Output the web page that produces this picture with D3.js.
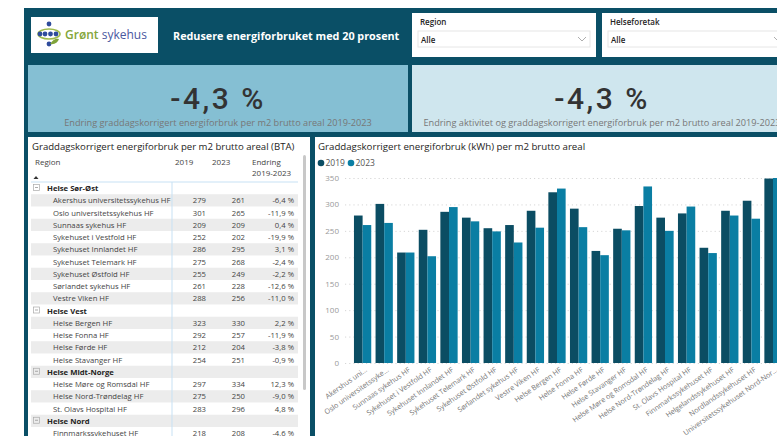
<!DOCTYPE html>
<html><head><meta charset="utf-8">
<script src="https://cdn.jsdelivr.net/npm/d3@7"></script>
<style>
html,body{margin:0;padding:0;background:#fff;overflow:hidden;}
svg{display:block;}
</style></head>
<body>
<script>
// ---------- DATA ----------
const regions = ["Helse Sør-Øst", "Helse Vest", "Helse Midt-Norge", "Helse Nord"];
const hospitals = [
  "Akershus universitetssykehus HF", "Oslo universitetssykehus HF", "Sunnaas sykehus HF",
  "Sykehuset i Vestfold HF", "Sykehuset Innlandet HF", "Sykehuset Telemark HF",
  "Sykehuset Østfold HF", "Sørlandet sykehus HF", "Vestre Viken HF",
  "Helse Bergen HF", "Helse Fonna HF", "Helse Førde HF", "Helse Stavanger HF",
  "Helse Møre og Romsdal HF", "Helse Nord-Trøndelag HF", "St. Olavs Hospital HF",
  "Finnmarkssykehuset HF", "Helgelandssykehuset HF", "Nordlandssykehuset HF",
  "Universitetssykehuset Nord-Norge HF"
];
const hospitalRegion = [0,0,0,0,0,0,0,0,0, 1,1,1,1, 2,2,2, 3,3,3,3];
const values2019 = [279, 301, 209, 252, 286, 275, 255, 261, 288, 323, 292, 212, 254, 297, 275, 283, 218, 288, 307, 349];
const values2023 = [261, 265, 209, 202, 295, 268, 249, 228, 256, 330, 257, 204, 251, 334, 250, 296, 208, 279, 273, 350];
const changeLabels = ["-6,4 %", "-11,9 %", "0,4 %", "-19,9 %", "3,1 %", "-2,4 %", "-2,2 %", "-12,6 %", "-11,0 %",
  "2,2 %", "-11,9 %", "-3,8 %", "-0,9 %", "12,3 %", "-9,0 %", "4,8 %", "-4,6 %", "-3,1 %", "-11,1 %", "0,3 %"];
const xTickLabels = [
  "Akershus uni...", "Oslo universitetssyke...", "Sunnaas sykehus HF", "Sykehuset i Vestfold HF",
  "Sykehuset Innlandet HF", "Sykehuset Telemark HF", "Sykehuset Østfold HF", "Sørlandet sykehus HF",
  "Vestre Viken HF", "Helse Bergen HF", "Helse Fonna HF", "Helse Førde HF", "Helse Stavanger HF",
  "Helse Møre og Romsdal HF", "Helse Nord-Trøndelag HF", "St. Olavs Hospital HF",
  "Finnmarkssykehuset HF", "Helgelandssykehuset HF", "Nordlandssykehuset HF", "Universitetssykehuset Nord-Nor..."
];
const seriesNames = ["2019", "2023"];
const yTicks = [0, 50, 100, 150, 200, 250, 300, 350];
const kpiValues = ["-4,3 %", "-4,3 %"];
const kpiLabels = [
  "Endring graddagskorrigert energiforbruk per m2 brutto areal 2019-2023",
  "Endring aktivitet og graddagskorrigert energiforbruk per m2 brutto areal 2019-2023"
];
const pageTitle = "Redusere energiforbruket med 20 prosent";
const tableTitle = "Graddagskorrigert energiforbruk per m2 brutto areal (BTA)";
const chartTitle = "Graddagskorrigert energiforbruk (kWh) per m2 brutto areal";
const slicers = [{label: "Region", value: "Alle"}, {label: "Helseforetak", value: "Alle"}];

// ---------- STYLE ----------
const W = 777, H = 436;
const FONT = "'Open Sans', 'Noto Sans', sans-serif";
const BG = "#0a4f66";
const C2019 = "#0b4d63";
const C2023 = "#0a7ea3";
const TXT = "#252423";

const svg = d3.select("body").append("svg").attr("width", W).attr("height", H)
  .style("font-family", FONT);

svg.append("rect").attr("width", W).attr("height", H).attr("fill", "#fff");
svg.append("rect").attr("x", 24).attr("y", 8).attr("width", W - 24).attr("height", H - 8).attr("fill", BG);

// ---------- LOGO ----------
const logo = svg.append("g");
logo.append("rect").attr("x", 31).attr("y", 17).attr("width", 127).attr("height", 36).attr("fill", "#fff");
logo.append("ellipse").attr("cx", 49).attr("cy", 34).attr("rx", 11).attr("ry", 5)
  .attr("fill", "none").attr("stroke", "#9dba4a").attr("stroke-width", 1.6);
const dots = [[49, 24], [40, 34], [45, 34], [50.5, 34], [56, 34], [49, 44]];
dots.forEach(d => logo.append("circle").attr("cx", d[0]).attr("cy", d[1]).attr("r", 2.4).attr("fill", "#2f4c9c"));
logo.append("path").attr("d", "M50,44 q4,-6 9,-5 q-2,6 -9,5z").attr("fill", "#7fa33a");
const lt = logo.append("text").attr("x", 65).attr("y", 39).attr("font-size", 12);
lt.append("tspan").attr("fill", "#84a63a").attr("font-weight", 600).text("Grønt");
lt.append("tspan").attr("fill", "#4a58a0").text(" sykehus");

svg.append("text").attr("x", 173).attr("y", 39.5).attr("fill", "#fff").attr("font-size", 10.8)
  .attr("font-weight", 700).text(pageTitle);

// ---------- SLICERS ----------
const slicerX = [412, 602], slicerW = [184, 190];
slicers.forEach((s, i) => {
  const g = svg.append("g").attr("transform", `translate(${slicerX[i]},13)`);
  g.append("rect").attr("width", slicerW[i]).attr("height", 44).attr("fill", "#fff");
  g.append("text").attr("x", 8).attr("y", 12).attr("font-size", 8).attr("fill", TXT).attr("font-weight", 600).text(s.label);
  g.append("rect").attr("x", 6).attr("y", 18).attr("width", slicerW[i] - 12).attr("height", 16)
    .attr("fill", "#fff").attr("stroke", "#e6e6e6");
  g.append("text").attr("x", 9).attr("y", 29.5).attr("font-size", 8).attr("fill", TXT).attr("font-weight", 600).text(s.value);
  g.append("path").attr("d", `M${slicerW[i] - 18},24 l4,4 l4,-4`).attr("fill", "none").attr("stroke", "#999").attr("stroke-width", 0.8);
});

// ---------- KPI CARDS ----------
const cardX = [28, 412], cardW = [380, 380], cardFill = ["#85bfd3", "#cfe6ee"];
kpiValues.forEach((v, i) => {
  const g = svg.append("g").attr("transform", `translate(${cardX[i]},65)`);
  g.append("rect").attr("width", cardW[i]).attr("height", 67).attr("fill", cardFill[i]);
  g.append("text").attr("x", 190).attr("y", 44).attr("text-anchor", "middle").attr("font-size", 30)
    .attr("font-family", "Roboto, sans-serif").attr("font-weight", 500).attr("letter-spacing", 2.5).attr("fill", "#333").text(v);
  g.append("text").attr("x", 190).attr("y", 61).attr("text-anchor", "middle").attr("font-size", 9.2)
    .attr("fill", "#777").text(kpiLabels[i]);
});

// ---------- TABLE ----------
const tbl = svg.append("g");
tbl.append("rect").attr("x", 28).attr("y", 137).attr("width", 282).attr("height", H - 137).attr("fill", "#fff");
tbl.append("text").attr("x", 32).attr("y", 149.5).attr("font-size", 9.6).attr("fill", TXT).text(tableTitle);
const hy = 164.5;
const HF = 8;
tbl.append("text").attr("x", 35).attr("y", hy).attr("font-size", HF).attr("fill", "#444").text("Region");
tbl.append("text").attr("x", 175).attr("y", hy).attr("font-size", HF).attr("fill", "#444").text(seriesNames[0]);
tbl.append("text").attr("x", 212).attr("y", hy).attr("font-size", HF).attr("fill", "#444").text(seriesNames[1]);
tbl.append("text").attr("x", 252).attr("y", hy).attr("font-size", HF).attr("fill", "#444").text("Endring");
tbl.append("text").attr("x", 252).attr("y", hy + 11).attr("font-size", HF).attr("fill", "#444").text("2019-2023");
tbl.append("path").attr("d", "M33.5,179 l2.5,-3 l2.5,3z").attr("fill", "#333");
tbl.append("line").attr("x1", 31).attr("x2", 298).attr("y1", 182).attr("y2", 182).attr("stroke", "#c7e1f4").attr("stroke-width", 1);

// build rows
const rows = [];
regions.forEach((r, ri) => {
  rows.push({type: "group", name: r});
  hospitals.forEach((h, i) => {
    if (hospitalRegion[i] === ri) rows.push({type: "item", name: h, i});
  });
});
const rowY = d3.scaleLinear().domain([0, 1]).range([188, 200.25]);
const rowsG = tbl.append("g").attr("font-size", 7.7);
rows.forEach((row, k) => {
  const cy = rowY(k);
  if (cy > H + 10) return;
  if (k % 2 === 1) rowsG.append("rect").attr("x", 31).attr("y", cy - 6).attr("width", 267).attr("height", 12.2).attr("fill", "#ececec");
  if (row.type === "group") {
    rowsG.append("rect").attr("x", 33.5).attr("y", cy - 3.5).attr("width", 6).attr("height", 6)
      .attr("fill", "none").attr("stroke", "#aaa").attr("stroke-width", 0.7);
    rowsG.append("line").attr("x1", 35).attr("x2", 38).attr("y1", cy - 0.5).attr("y2", cy - 0.5).attr("stroke", "#888").attr("stroke-width", 0.7);
    rowsG.append("text").attr("x", 47).attr("y", cy + 3).attr("font-weight", 700).attr("fill", TXT).text(row.name);
  } else {
    rowsG.append("text").attr("x", 53).attr("y", cy + 3).attr("fill", "#444").text(row.name);
    rowsG.append("text").attr("x", 206).attr("y", cy + 3).attr("text-anchor", "end").attr("fill", "#444").text(values2019[row.i]);
    rowsG.append("text").attr("x", 245).attr("y", cy + 3).attr("text-anchor", "end").attr("fill", "#444").text(values2023[row.i]);
    rowsG.append("text").attr("x", 294).attr("y", cy + 3).attr("text-anchor", "end").attr("fill", "#444").text(changeLabels[row.i]);
  }
});
tbl.append("line").attr("x1", 172).attr("x2", 172).attr("y1", 182).attr("y2", H).attr("stroke", "#c7e1f4").attr("stroke-width", 1);
tbl.append("rect").attr("x", 303).attr("y", 155).attr("width", 3).attr("height", 235).attr("rx", 1.5).attr("fill", "#c8c8c8");

// ---------- BAR CHART ----------
const ch = svg.append("g");
ch.append("rect").attr("x", 315).attr("y", 137).attr("width", W - 315).attr("height", H - 137).attr("fill", "#fff");
ch.append("text").attr("x", 318).attr("y", 149.5).attr("font-size", 9.7).attr("fill", TXT).text(chartTitle);
const color = d3.scaleOrdinal().domain(seriesNames).range([C2019, C2023]);
seriesNames.forEach((s, i) => {
  const lx = 321 + i * 30;
  ch.append("circle").attr("cx", lx).attr("cy", 163).attr("r", 3.3).attr("fill", color(s));
  ch.append("text").attr("x", lx + 4.5).attr("y", 166.2).attr("font-size", 8.5).attr("fill", "#555").text(s);
});

const y = d3.scaleLinear().domain([0, 350]).range([363, 178]);
const x = d3.scaleBand().domain(xTickLabels).range([351.8, 783.8]).paddingInner(0.2).paddingOuter(0.1);
const xs = d3.scaleBand().domain(seriesNames).range([0, x.bandwidth()]);

const yAxis = d3.axisLeft(y).tickValues(yTicks).tickSize(-(W - 345)).tickPadding(6);
const gy = ch.append("g").attr("transform", "translate(345,0)").call(yAxis);
gy.select(".domain").remove();
gy.selectAll(".tick line").attr("stroke", "#d6d6d6").attr("stroke-dasharray", "1.2,3");
gy.selectAll(".tick text").attr("font-size", 8).attr("fill", "#999").attr("font-family", FONT);

const groups = ch.append("g").selectAll("g").data(hospitals).join("g")
  .attr("transform", (d, i) => `translate(${x(xTickLabels[i])},0)`);
groups.selectAll("rect").data((d, i) => [{s: "2019", v: values2019[i]}, {s: "2023", v: values2023[i]}]).join("rect")
  .attr("x", d => xs(d.s)).attr("width", xs.bandwidth())
  .attr("y", d => y(d.v)).attr("height", d => y(0) - y(d.v))
  .attr("fill", d => color(d.s));

const xAxis = d3.axisBottom(x).tickSize(0).tickPadding(0);
const gx = ch.append("g").attr("transform", "translate(0,366)").call(xAxis);
gx.select(".domain").remove();
gx.selectAll(".tick text").attr("font-size", 7.2).attr("fill", "#777").attr("font-family", FONT)
  .attr("text-anchor", "end").attr("dy", "0.5em").attr("transform", "translate(3,2) rotate(-35)");
</script>
</body></html>
